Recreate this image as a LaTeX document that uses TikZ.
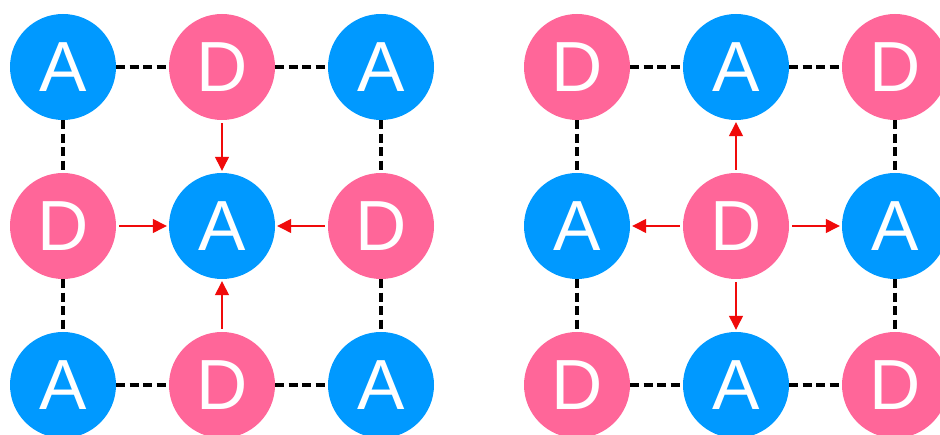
\documentclass[tikz,border=0pt]{standalone}
\usepackage{fontspec}
\setmainfont{Liberation Sans}
\usetikzlibrary{arrows.meta}
\definecolor{acc}{RGB}{0,153,255}
\definecolor{don}{RGB}{255,102,153}
\definecolor{arr}{RGB}{240,10,10}
\tikzset{
  site/.style={circle, minimum size=106pt, inner sep=0pt, text=white,
    font=\fontsize{71}{71}\selectfont},
  accnode/.style={site, fill=acc},
  donnode/.style={site, fill=don},
  bond/.style={draw=black, line width=3.5pt, dash pattern=on 9pt off 4.5pt},
  hb/.style={draw=arr, line width=1.3pt, shorten <=3pt, shorten >=2pt,
    -{Triangle[length=14pt,width=14pt]}}
}
\begin{document}
\begin{tikzpicture}[x=1pt,y=1pt]
\useasboundingbox (0,0) rectangle (940,435);
\clip (0,0) rectangle (940,435);
\fill[white] (0,0) rectangle (940,435);

% left lattice: acceptor in the centre, donors around it
\node[accnode] (L11) at (63,368) {A};
\node[donnode] (L12) at (222,368) {D};
\node[accnode] (L13) at (381,368) {A};
\node[donnode] (L21) at (63,209) {D};
\node[accnode] (L22) at (222,209) {A};
\node[donnode] (L23) at (381,209) {D};
\node[accnode] (L31) at (63,50) {A};
\node[donnode] (L32) at (222,50) {D};
\node[accnode] (L33) at (381,50) {A};

\draw[bond] (L11) -- (L12);
\draw[bond] (L12) -- (L13);
\draw[bond] (L31) -- (L32);
\draw[bond] (L32) -- (L33);
\draw[bond] (L11) -- (L21);
\draw[bond] (L21) -- (L31);
\draw[bond] (L13) -- (L23);
\draw[bond] (L23) -- (L33);

\draw[hb] (L12) -- (L22);
\draw[hb] (L21) -- (L22);
\draw[hb] (L23) -- (L22);
\draw[hb] (L32) -- (L22);

% right lattice: donor in the centre, acceptors around it
\node[donnode] (R11) at (577,368) {D};
\node[accnode] (R12) at (736,368) {A};
\node[donnode] (R13) at (895,368) {D};
\node[accnode] (R21) at (577,209) {A};
\node[donnode] (R22) at (736,209) {D};
\node[accnode] (R23) at (895,209) {A};
\node[donnode] (R31) at (577,50) {D};
\node[accnode] (R32) at (736,50) {A};
\node[donnode] (R33) at (895,50) {D};

\draw[bond] (R11) -- (R12);
\draw[bond] (R12) -- (R13);
\draw[bond] (R31) -- (R32);
\draw[bond] (R32) -- (R33);
\draw[bond] (R11) -- (R21);
\draw[bond] (R21) -- (R31);
\draw[bond] (R13) -- (R23);
\draw[bond] (R23) -- (R33);

\draw[hb] (R22) -- (R12);
\draw[hb] (R22) -- (R21);
\draw[hb] (R22) -- (R23);
\draw[hb] (R22) -- (R32);
\end{tikzpicture}
\end{document}
